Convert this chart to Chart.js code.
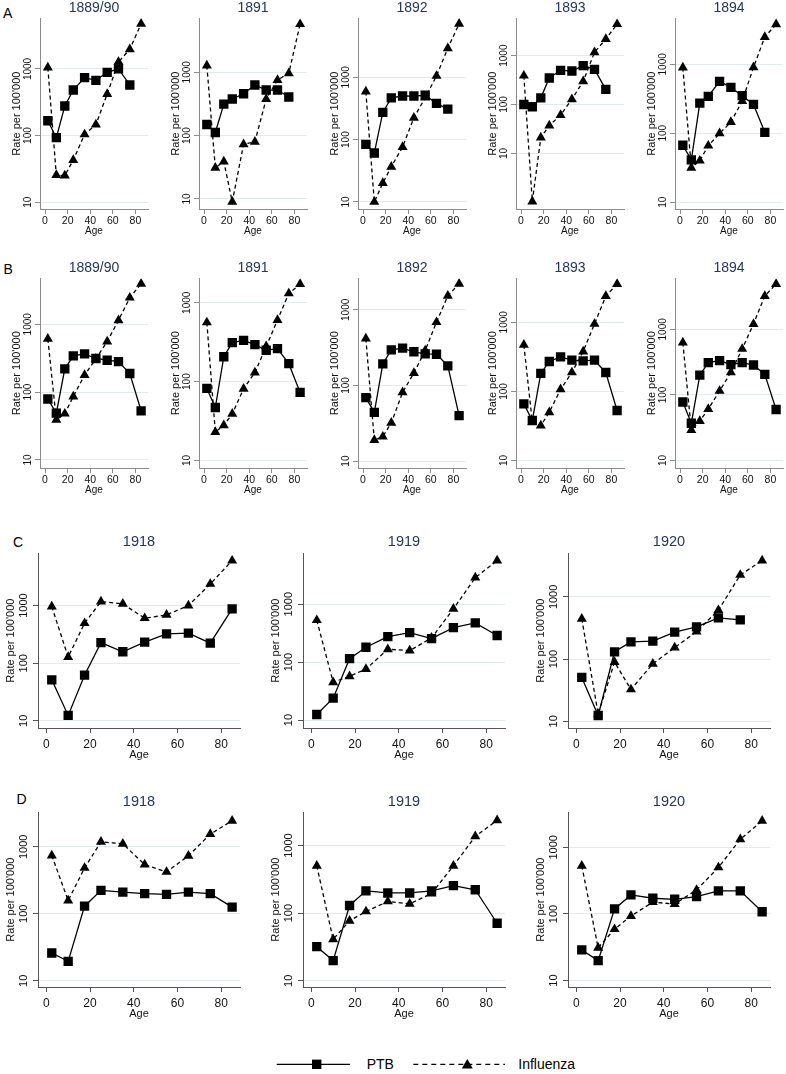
<!DOCTYPE html>
<html>
<head>
<meta charset="utf-8">
<script src="https://cdn.jsdelivr.net/npm/chart.js@4/dist/chart.umd.min.js"></script>
<style>
  body { margin:0; background:#fff; width:786px; height:1074px; position:relative; overflow:hidden;
         font-family:"Liberation Sans", Arial, Helvetica, sans-serif; }
  canvas { position:absolute; }
  .panel-letter { position:absolute; font-size:14px; line-height:16px; color:#000; }
  .leg-text { position:absolute; font-size:14px; line-height:16px; color:#000; }
</style>
</head>
<body>
<div class="panel-letter" style="left:3px;top:4.5px">A</div>
<div class="panel-letter" style="left:3.5px;top:261px">B</div>
<div class="panel-letter" style="left:13px;top:534px">C</div>
<div class="panel-letter" style="left:16.5px;top:791px">D</div>

<svg style="position:absolute;left:270px;top:1050px" width="250" height="30">
  <line x1="6.7" y1="14.3" x2="80" y2="14.3" stroke="#000" stroke-width="1.3"/>
  <rect x="42" y="9.6" width="9.4" height="9.4" fill="#000"/>
  <line x1="143.3" y1="14.3" x2="235" y2="14.3" stroke="#000" stroke-width="1.3" stroke-dasharray="5 4"/>
  <polygon points="197.3,9 191.8,18.6 202.8,18.6" fill="#000"/>
</svg>
<div class="leg-text" style="left:366.7px;top:1056px">PTB</div>
<div class="leg-text" style="left:518.3px;top:1056px">Influenza</div>

<script>
// ---------------- DATA ----------------
const ages = [2.5, 10, 17.5, 25, 35, 45, 55, 65, 75, 85];
const xTicks = [0, 20, 40, 60, 80];
const yTicks = [10, 100, 1000];

const titlesAB = ['1889/90', '1891', '1892', '1893', '1894'];
const titlesCD = ['1918', '1919', '1920'];

// Row A
const ptbA1 = [167, 93, 278, 483, 741, 675, 890, 1000, 575];
const fluA1 = [1047, 25.5, 25, 43, 104, 146, 421, 1274, 1977, 4750];
const ptbA2 = [150, 112, 315, 379, 459, 630, 525, 525, 407];
const fluA2 = [1275, 31, 39, 9, 73, 80, 379, 756, 965, 5750];
const ptbA3 = [84, 61, 273, 466, 501, 500, 515, 382, 309];
const fluA3 = [588, 10, 20, 36.6, 76, 224, 471, 1050, 2925, 7200];
const ptbA4 = [100, 90, 137, 349, 501, 485, 624, 525, 204];
const fluA4 = [389, 1.04, 21, 37, 61, 128, 298, 1170, 2190, 4390];
const ptbA5 = [67, 41, 274, 343, 566, 463, 351, 262, 103];
const fluA5 = [895, 31.5, 40, 66, 99.5, 145, 293, 904, 2490, 3810];

// Row B
const ptbB1 = [79, 49, 220, 342, 366, 313, 295, 282, 188, 53];
const fluB1 = [608, 39, 48, 86, 178, 310, 556, 1145, 2465, 3960];
const ptbB2 = [82, 47, 207, 312, 334, 294, 250, 262, 169, 73];
const fluB2 = [563, 23, 28, 39, 81, 130, 280, 604, 1313, 1722];
const ptbB3 = [69, 44, 193, 296, 311, 279, 262, 259, 182, 40];
const fluB3 = [418, 19, 21, 32, 81, 146, 290, 687, 1531, 2210];
const ptbB4 = [66, 38, 182, 271, 316, 283, 277, 283, 188, 53];
const fluB4 = [471, 36, 32, 50, 107, 188, 378, 946, 2400, 3570];
const ptbB5 = [78, 37, 200, 310, 333, 290, 310, 286, 206, 60];
const fluB5 = [627, 29, 40, 61, 115, 221, 502, 1206, 3220, 4900];

// Row C
const ptbC1 = [51.5, 12.4, 62, 228, 158, 232, 324, 332, 223, 877];
const fluC1 = [961, 128, 495, 1173, 1070, 604, 689, 1000, 2375, 6020];
const ptbC2 = [12.5, 23.9, 115, 181, 276, 324, 255, 395, 476, 288];
const fluC2 = [530, 45, 57, 76, 167, 158, 262, 830, 2880, 5650];
const ptbC3 = [50.7, 12.4, 131, 189, 194, 271, 330, 460, 428];
const fluC3 = [444, 13.1, 89.5, 32.5, 84, 153, 277, 611, 2254, 3830];

// Row D
const ptbD1 = [26, 19.5, 130, 224, 211, 200, 195, 211, 200, 126];
const fluD1 = [743, 158, 484, 1188, 1109, 544, 422, 733, 1550, 2455];
const ptbD2 = [32, 19.9, 130, 214, 199, 199, 214, 256, 222, 71];
const fluD2 = [502, 41, 77, 106, 149, 137, 195, 502, 1365, 2355];
const ptbD3 = [28.8, 19.9, 119, 193, 172, 166, 182, 222, 222, 108];
const fluD3 = [528, 31, 59, 93, 150, 141, 229, 499, 1320, 2510];

// Axis ranges (log scale)
const yMinA = [7.9, 6.95, 7.7, 0.73, 7.96], yMaxA = [5780, 7150, 8870, 5830, 4670];
const yMinB = [7.6, 8.04, 8.1, 7.8, 7.7],   yMaxB = [4745, 2037, 2606, 4315, 5970];
const yMinC = [7.5, 7.3, 7.8],              yMaxC = [8090, 7570, 5020];
const yMinD = [8.07, 8.1, 8.0],             yMaxD = [3280, 3100, 3360];

// ---------------- LAYOUT ----------------
const FAMILY = '"Liberation Sans", Arial, Helvetica, sans-serif';
Chart.defaults.font.family = FAMILY;

const smallRow = { axisX:[40,199,358,516,675], plotW:107.5, xmin:-4.44, xmax:91.1, yW:40, xH:30,
  titleSize:14, tickY:10, tickX:10.5, ageSize:10, ytSize:11, yLabOff:12, yTitleOff:23,
  xLabOff:12.5, ageOff:21.8, axisCol:'#8c8c8c' };
const bigRow = { axisX:[38.3,302.7,568.3], plotW:201.7, xmin:-3.8, xmax:88.6, yW:38, xH:34,
  titleSize:14.5, tickY:11, tickX:12, ageSize:11, ytSize:11, yLabOff:13.6, yTitleOff:27,
  xLabOff:16.3, ageOff:26.7, axisCol:'#555555' };

const rows = [
  Object.assign({}, smallRow, { T:18.3,  B:208.7, titleC:8.5,   titles:titlesAB,
    ptb:[ptbA1,ptbA2,ptbA3,ptbA4,ptbA5], flu:[fluA1,fluA2,fluA3,fluA4,fluA5], ymin:yMinA, ymax:yMaxA }),
  Object.assign({}, smallRow, { T:278.3, B:468.3, titleC:268.3, titles:titlesAB,
    ptb:[ptbB1,ptbB2,ptbB3,ptbB4,ptbB5], flu:[fluB1,fluB2,fluB3,fluB4,fluB5], ymin:yMinB, ymax:yMaxB }),
  Object.assign({}, bigRow,   { T:553.3, B:728.3, titleC:541.7, titles:titlesCD,
    ptb:[ptbC1,ptbC2,ptbC3], flu:[fluC1,fluC2,fluC3], ymin:yMinC, ymax:yMaxC }),
  Object.assign({}, bigRow,   { T:812.3, B:986.7, titleC:801.7, titles:titlesCD,
    ptb:[ptbD1,ptbD2,ptbD3], flu:[fluD1,fluD2,fluD3], ymin:yMinD, ymax:yMaxD }),
];

const mctx = document.createElement('canvas').getContext('2d');
function textW(t, size) { mctx.font = size + 'px ' + FAMILY; return mctx.measureText(t).width; }

const RIGHT_PAD = 8;
const TICK_LEN = 5;

rows.forEach(r => {
  const titleLH = r.titleSize * 1.2;
  const canvasTop = r.titleC - titleLH / 2;
  const titlePadB = r.T - canvasTop - titleLH;
  const height = r.B - canvasTop + r.xH;
  const xTickPad = r.xLabOff - TICK_LEN - r.tickX * 1.2 / 2;
  const agePadB = r.xH - r.ageOff - r.ageSize * 1.2 / 2;
  const yTitlePadT = r.yW - r.yTitleOff - r.ytSize * 1.2 / 2;
  const widest = textW('1000', r.tickY);
  const yTickPad = r.yLabOff - TICK_LEN - widest / 2;

  r.axisX.forEach((ax, i) => {
    const cv = document.createElement('canvas');
    const w = r.yW + r.plotW + RIGHT_PAD;
    cv.width = Math.round(w); cv.height = Math.round(height);
    cv.style.left = (ax - r.yW) + 'px';
    cv.style.top = canvasTop + 'px';
    document.body.appendChild(cv);

    const ptbPts = r.ptb[i].map((v, k) => ({ x: ages[k], y: v }));
    const fluPts = r.flu[i].map((v, k) => ({ x: ages[k], y: v }));

    new Chart(cv, {
      type: 'line',
      data: {
        datasets: [
          { label: 'PTB', data: ptbPts, borderColor: '#000', borderWidth: 1.3,
            pointStyle: 'rect', pointRadius: 6.6, pointBackgroundColor: '#000',
            pointBorderWidth: 0, fill: false, tension: 0 },
          { label: 'Influenza', data: fluPts, borderColor: '#000', borderWidth: 1.3,
            borderDash: [4, 3], pointStyle: 'triangle', pointRadius: 5.8,
            pointBackgroundColor: '#000', pointBorderWidth: 0, fill: false, tension: 0 }
        ]
      },
      options: {
        responsive: false, animation: false, devicePixelRatio: 1,
        layout: { padding: { left: 0, right: RIGHT_PAD, top: 0, bottom: 0 } },
        plugins: {
          legend: { display: false },
          tooltip: { enabled: false },
          title: { display: true, text: r.titles[i], color: '#23375f', fullSize: false,
                   font: { size: r.titleSize, weight: 'normal' },
                   padding: { top: 0, bottom: titlePadB } }
        },
        scales: {
          x: {
            type: 'linear', min: r.xmin, max: r.xmax, bounds: 'data',
            afterBuildTicks: s => { s.ticks = xTicks.map(v => ({ value: v })); },
            afterFit: s => { s.height = r.xH; },
            grid: { drawOnChartArea: false, drawTicks: true, tickLength: TICK_LEN, tickColor: r.axisCol, tickWidth: 1 },
            border: { display: true, color: r.axisCol, width: 1 },
            ticks: { font: { size: r.tickX }, color: '#111', padding: xTickPad,
                     maxRotation: 0, minRotation: 0, autoSkip: false },
            title: { display: true, text: 'Age', color: '#111', font: { size: r.ageSize },
                     padding: { top: 0, bottom: agePadB } }
          },
          y: {
            type: 'logarithmic', min: r.ymin[i], max: r.ymax[i], bounds: 'data',
            afterBuildTicks: s => { s.ticks = yTicks.map(v => ({ value: v })); },
            afterFit: s => { s.width = r.yW; },
            grid: { color: '#e2eaed', lineWidth: 1, drawTicks: true, tickLength: TICK_LEN,
                    tickColor: r.axisCol, tickWidth: 1 },
            border: { display: true, color: r.axisCol, width: 1 },
            ticks: { font: { size: r.tickY }, color: '#111', minRotation: 90, maxRotation: 90,
                     crossAlign: 'center', padding: yTickPad, autoSkip: false,
                     callback: v => String(v) },
            title: { display: true, text: "Rate per 100'000", color: '#111', font: { size: r.ytSize },
                     padding: { top: yTitlePadT, bottom: 0 } }
          }
        }
      }
    });
  });
});
</script>
</body>
</html>
